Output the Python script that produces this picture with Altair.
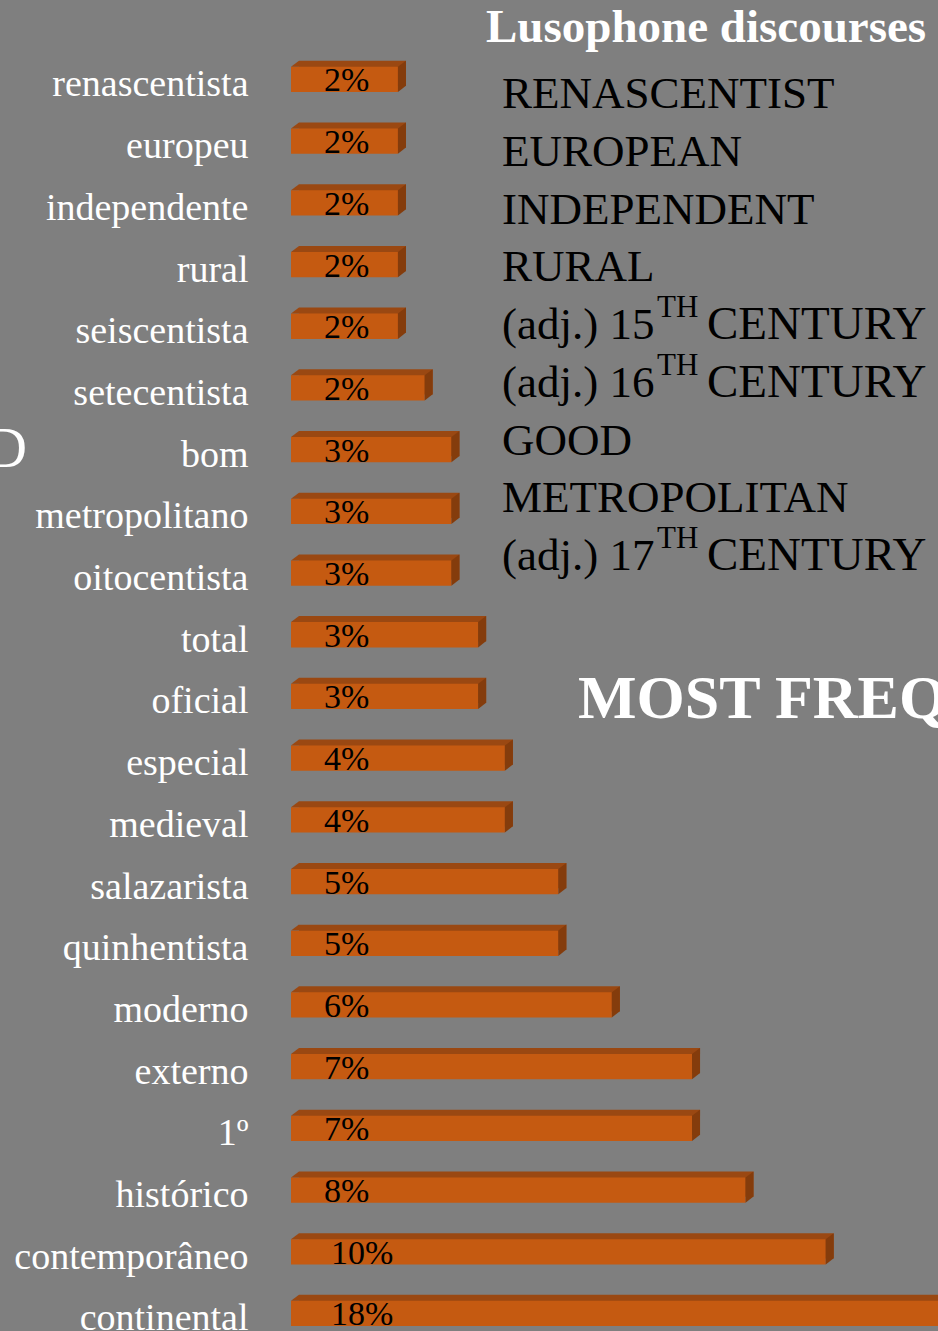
import altair as alt
import pandas as pd

categories = ["renascentista", "europeu", "independente", "rural", "seiscentista",
              "setecentista", "bom", "metropolitano", "oitocentista", "total", "oficial",
              "especial", "medieval", "salazarista", "quinhentista", "moderno", "externo",
              "1º", "histórico", "contemporâneo", "continental"]
values = [2, 2, 2, 2, 2, 2.5, 3, 3, 3, 3.5, 3.5, 4, 4, 5, 5, 6, 7.5, 7.5, 8.5, 10, 18]
labels = ["2%", "2%", "2%", "2%", "2%", "2%", "3%", "3%", "3%", "3%", "3%", "4%", "4%",
          "5%", "5%", "6%", "7%", "7%", "8%", "10%", "18%"]

list_main = ["RENASCENTIST", "EUROPEAN", "INDEPENDENT", "RURAL", "(adj.) 15",
             "(adj.) 16", "GOOD", "METROPOLITAN", "(adj.) 17"]
list_sup = ["", "", "", "", "TH", "TH", "", "", "TH"]
list_rest = ["", "", "", "", "CENTURY", "CENTURY", "", "", "CENTURY"]

title_text = "Lusophone discourses"
big_text = "MOST FREQUENT"
left_text = "D"

BG = "#7F7F7F"
FRONT = "#C55A11"
TOP = "#9A4812"
SIDE = "#843C0C"
SERIF = "Liberation Serif"

df = pd.DataFrame({"cat": categories, "value": values, "label": labels})
df_list = pd.DataFrame({"i": list(range(len(list_main))), "main": list_main,
                        "sup": list_sup, "rest": list_rest})

xscale = alt.Scale(domain=[0, 12.1], nice=False, zero=True)
yscale = alt.Scale(paddingInner=0.59, paddingOuter=0.581, align=0.932)

base = alt.Chart(df)
Y = alt.Y("cat:N", sort=categories, scale=yscale, title=None,
          axis=alt.Axis(domain=False, ticks=False, grid=False, labelFont=SERIF,
                        labelFontSize=38, labelColor="white", labelPadding=43,
                        labelBaseline="alphabetic", labelOffset=17, labelLimit=500))
X = alt.X("value:Q", scale=xscale, axis=None)

back = base.mark_bar(color=TOP, xOffset=8, x2Offset=8, yOffset=-6, y2Offset=-6).encode(x=X, y=Y)
front = base.mark_bar(color=FRONT).encode(x=X, y=Y)
side = base.mark_point(shape="M0,-12.65 L8,-18.65 L8,6.35 L0,12.65 Z", size=4, filled=True,
                       color=SIDE, opacity=1, strokeWidth=0).encode(x=X, y=Y)
left = base.mark_point(shape="M0,-12.65 L8,-18.65 L8,-12.65 Z", size=4, filled=True,
                       color=TOP, opacity=1, strokeWidth=0).encode(x=alt.datum(0), y=Y)
pct = base.transform_calculate(
    px="length(datum.label) > 2 ? 40 : 33"
).mark_text(font=SERIF, fontSize=34, color="black", align="left",
            baseline="alphabetic", dy=12).encode(
    x=alt.X("px:Q", scale=None), y=Y, text="label:N")

bars = alt.layer(back, front, side, left, pct)

lb = alt.Chart(df_list).transform_calculate(py="108 + datum.i * 57.75")
main_t = lb.mark_text(font=SERIF, fontSize=45, color="black", align="left",
                      baseline="alphabetic").encode(
    x=alt.value(211), y=alt.Y("py:Q", scale=None), text="main:N")
sup_t = lb.transform_filter("datum.sup != ''").mark_text(
    font=SERIF, fontSize=31, color="black", align="left", baseline="alphabetic", dy=-22).encode(
    x=alt.value(366), y=alt.Y("py:Q", scale=None), text="sup:N")
rest_t = lb.transform_filter("datum.rest != ''").mark_text(
    font=SERIF, fontSize=47, color="black", align="left", baseline="alphabetic").encode(
    x=alt.value(416), y=alt.Y("py:Q", scale=None), text="rest:N")

title_m = alt.Chart(pd.DataFrame({"t": [title_text]})).mark_text(
    font=SERIF, fontSize=47, fontWeight="bold", color="white", align="left",
    baseline="alphabetic").encode(x=alt.value(195), y=alt.value(42), text="t:N")
big_m = alt.Chart(pd.DataFrame({"t": [big_text]})).mark_text(
    font=SERIF, fontSize=62, fontWeight="bold", color="white", align="left",
    baseline="alphabetic").encode(x=alt.value(287), y=alt.value(718), text="t:N")
d_m = alt.Chart(pd.DataFrame({"t": [left_text]})).mark_text(
    font=SERIF, fontSize=56, color="white", align="right",
    baseline="alphabetic").encode(x=alt.value(27 - 291), y=alt.value(467), text="t:N")

annots = alt.layer(main_t, sup_t, rest_t, title_m, big_m, d_m)

chart = alt.layer(bars, annots).resolve_scale(x="independent", y="independent").properties(
    width=647, height=1331,
    autosize=alt.AutoSizeParams(type="none"),
    padding={"left": 291, "top": 0, "right": 0, "bottom": 0},
    background=BG,
).configure_view(stroke=None)

chart.save("out.html", embed_options={"renderer": "svg", "actions": False})
